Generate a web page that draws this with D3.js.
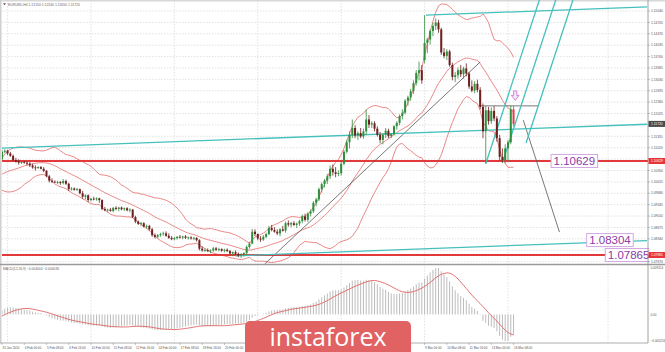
<!DOCTYPE html>
<html><head><meta charset="utf-8">
<script src="https://cdn.jsdelivr.net/npm/d3@7"></script>
<style>html,body{margin:0;padding:0;background:#fff;}svg{display:block;font-family:"Liberation Sans",Arial,sans-serif;}</style>
</head><body><svg id="c" width="665" height="352"></svg>
<script>
// ---------- DATA ----------
const title = "EURUSD,H4  1.12150 1.12240 1.11650 1.11720";
// closes before the first visible bar (only used to warm up the indicators)
const preCloses = [1.1092,1.1093,1.1090,1.1095,1.1092,1.1094, 1.1090,1.1085,1.1088,1.1082,1.1085,1.1082,
 1.1085,1.1090,1.1092,1.1088,1.1090,1.1092, 1.1090,1.1085,1.1080,1.1058,1.1050,1.1055,
 1.1058,1.1052,1.1045,1.1035,1.1028,1.1025, 1.1020,1.1025,1.1030,1.1022,1.1018,1.1020,
 1.1020,1.1015,1.1012,1.1005,1.1018,1.1020, 1.1018,1.1012,1.1005,1.1000,1.0995,1.1008,
 1.1010,1.1005,1.1012,1.1025,1.1030,1.1032, 1.1035,1.1040,1.1055,1.1068];
const opens = [1.1068,1.1090,
 1.1093,1.1085,1.1078,1.1066,1.1062,1.1058, 1.1060,1.1058,1.1055,1.1050,1.1044,1.1042,
 1.1045,1.1040,1.1034,1.1018,1.1005,1.1002, 1.1000,1.1001,1.0998,1.1004,1.0996,1.0980,
 1.0982,1.0978,1.0980,1.0968,1.0958,1.0962, 1.0948,1.0952,1.0950,1.0953,1.0948,1.0922,
 1.0918,1.0920,1.0916,1.0925,1.0922,1.0926, 1.0921,1.0924,1.0918,1.0920,1.0898,1.0885,
 1.0878,1.0880,1.0870,1.0872,1.0862,1.0845, 1.0840,1.0845,1.0848,1.0850,1.0843,1.0837,
 1.0833,1.0836,1.0840,1.0838,1.0841,1.0837, 1.0838,1.0835,1.0837,1.0830,1.0805,1.0800,
 1.0801,1.0798,1.0800,1.0806,1.0802,1.0804, 1.0799,1.0802,1.0798,1.0791,1.0795,1.0790,
 1.0785,1.0788,1.0792,1.0810,1.0820,1.0855, 1.0848,1.0835,1.0832,1.0840,1.0848,1.0866,
 1.0860,1.0855,1.0850,1.0862,1.0858,1.0880, 1.0876,1.0880,1.0875,1.0879,1.0886,1.0900,
 1.0890,1.0908,1.0915,1.0940,1.0950,1.0980, 1.0995,1.1005,1.1018,1.1040,1.1030,1.1025,
 1.1027,1.1055,1.1090,1.1118,1.1140,1.1160, 1.1138,1.1145,1.1135,1.1150,1.1185,1.1170,
 1.1174,1.1158,1.1140,1.1125,1.1140,1.1152, 1.1136,1.1142,1.1165,1.1175,1.1195,1.1205,
 1.1240,1.1250,1.1268,1.1292,1.1322,1.1330, 1.1360,1.1410,1.1420,1.1445,1.1460,1.1470,
 1.1450,1.1382,1.1372,1.1385,1.1345,1.1310, 1.1315,1.1330,1.1318,1.1335,1.1320,1.1282,
 1.1270,1.1290,1.1272,1.1222,1.1150,1.1212, 1.1180,1.1210,1.1188,1.1130,1.1075,1.1065,
 1.1100,1.1118,1.1215];
const highs = [1.1096,1.1097,
 1.1096,1.1090,1.1082,1.1072,1.1068,1.1062, 1.1063,1.1061,1.1060,1.1055,1.1050,1.1047,
 1.1048,1.1045,1.1036,1.1022,1.1012,1.1006, 1.1005,1.1004,1.1010,1.1008,1.0999,1.0986,
 1.0985,1.0984,1.0982,1.0975,1.0965,1.0965, 1.0955,1.0958,1.0956,1.0955,1.0950,1.0928,
 1.0923,1.0925,1.0928,1.0930,1.0928,1.0929, 1.0926,1.0927,1.0924,1.0922,1.0902,1.0888,
 1.0884,1.0883,1.0876,1.0875,1.0866,1.0850, 1.0848,1.0852,1.0855,1.0856,1.0850,1.0842,
 1.0840,1.0842,1.0845,1.0843,1.0845,1.0841, 1.0842,1.0840,1.0839,1.0833,1.0812,1.0806,
 1.0806,1.0803,1.0810,1.0810,1.0808,1.0806, 1.0805,1.0806,1.0801,1.0797,1.0800,1.0794,
 1.0792,1.0795,1.0815,1.0825,1.0863,1.0862, 1.0850,1.0842,1.0845,1.0852,1.0872,1.0875,
 1.0868,1.0862,1.0865,1.0872,1.0885,1.0888, 1.0884,1.0886,1.0882,1.0890,1.0905,1.0908,
 1.0912,1.0920,1.0945,1.0955,1.0985,1.1000, 1.1010,1.1025,1.1050,1.1053,1.1045,1.1035,
 1.1060,1.1095,1.1125,1.1150,1.1185,1.1168, 1.1150,1.1160,1.1158,1.1214,1.1198,1.1180,
 1.1180,1.1165,1.1148,1.1145,1.1160,1.1158, 1.1145,1.1168,1.1180,1.1200,1.1215,1.1245,
 1.1255,1.1275,1.1300,1.1330,1.1355,1.1345, 1.1492,1.1425,1.1450,1.1470,1.1482,1.1478,
 1.1455,1.1395,1.1392,1.1390,1.1352,1.1325, 1.1338,1.1345,1.1340,1.1350,1.1325,1.1300,
 1.1298,1.1302,1.1280,1.1232,1.1225,1.1222, 1.1220,1.1224,1.1195,1.1140,1.1100,1.1112,
 1.1125,1.1226,1.1224];
const lows = [1.1065,1.1086,
 1.1080,1.1075,1.1062,1.1058,1.1052,1.1054, 1.1055,1.1050,1.1045,1.1040,1.1035,1.1040,
 1.1038,1.1030,1.1015,1.1000,1.0998,1.0998, 1.0995,1.0993,1.0994,1.0992,1.0975,1.0976,
 1.0976,1.0975,1.0965,1.0952,1.0950,1.0942, 1.0944,1.0947,1.0946,1.0940,1.0918,1.0915,
 1.0912,1.0914,1.0912,1.0918,1.0915,1.0918, 1.0916,1.0915,1.0912,1.0895,1.0880,1.0875,
 1.0872,1.0868,1.0864,1.0858,1.0840,1.0835, 1.0836,1.0840,1.0843,1.0840,1.0834,1.0830,
 1.0830,1.0832,1.0835,1.0833,1.0834,1.0832, 1.0832,1.0830,1.0826,1.0800,1.0796,1.0795,
 1.0795,1.0792,1.0796,1.0798,1.0797,1.0796, 1.0794,1.0795,1.0788,1.0783,1.0786,1.0780,
 1.0778,1.0782,1.0788,1.0805,1.0818,1.0842, 1.0830,1.0825,1.0828,1.0836,1.0845,1.0856,
 1.0852,1.0845,1.0842,1.0855,1.0852,1.0870, 1.0868,1.0872,1.0866,1.0872,1.0880,1.0885,
 1.0884,1.0900,1.0910,1.0930,1.0945,1.0970, 1.0985,1.0995,1.1010,1.1020,1.1015,1.1018,
 1.1020,1.1050,1.1085,1.1100,1.1130,1.1130, 1.1125,1.1130,1.1128,1.1140,1.1160,1.1160,
 1.1150,1.1135,1.1115,1.1112,1.1130,1.1130, 1.1130,1.1138,1.1155,1.1168,1.1185,1.1200,
 1.1225,1.1240,1.1260,1.1285,1.1300,1.1290, 1.1350,1.1380,1.1405,1.1430,1.1448,1.1440,
 1.1375,1.1365,1.1360,1.1340,1.1300,1.1295, 1.1305,1.1310,1.1305,1.1312,1.1275,1.1265,
 1.1262,1.1265,1.1215,1.1130,1.1055,1.1170, 1.1172,1.1180,1.1120,1.1065,1.1058,1.1056,
 1.1062,1.1112,1.1165];
const closes = [1.1090,1.1093,
 1.1085,1.1078,1.1066,1.1062,1.1058,1.1060, 1.1058,1.1055,1.1050,1.1044,1.1042,1.1045,
 1.1040,1.1034,1.1018,1.1005,1.1002,1.1000, 1.1001,1.0998,1.1004,1.0996,1.0980,1.0982,
 1.0978,1.0980,1.0968,1.0958,1.0962,1.0948, 1.0952,1.0950,1.0953,1.0948,1.0922,1.0918,
 1.0920,1.0916,1.0925,1.0922,1.0926,1.0921, 1.0924,1.0918,1.0920,1.0898,1.0885,1.0878,
 1.0880,1.0870,1.0872,1.0862,1.0845,1.0840, 1.0845,1.0848,1.0850,1.0843,1.0837,1.0833,
 1.0836,1.0840,1.0838,1.0841,1.0837,1.0838, 1.0835,1.0837,1.0830,1.0805,1.0800,1.0801,
 1.0798,1.0800,1.0806,1.0802,1.0804,1.0799, 1.0802,1.0798,1.0791,1.0795,1.0790,1.0785,
 1.0788,1.0792,1.0810,1.0820,1.0855,1.0848, 1.0835,1.0832,1.0840,1.0848,1.0866,1.0860,
 1.0855,1.0850,1.0862,1.0858,1.0880,1.0876, 1.0880,1.0875,1.0879,1.0886,1.0900,1.0890,
 1.0908,1.0915,1.0940,1.0950,1.0980,1.0995, 1.1005,1.1018,1.1040,1.1030,1.1025,1.1027,
 1.1055,1.1090,1.1118,1.1140,1.1160,1.1138, 1.1145,1.1135,1.1150,1.1185,1.1170,1.1174,
 1.1158,1.1140,1.1125,1.1140,1.1152,1.1136, 1.1142,1.1165,1.1175,1.1195,1.1205,1.1240,
 1.1250,1.1268,1.1292,1.1322,1.1330,1.1300, 1.1410,1.1420,1.1445,1.1460,1.1470,1.1450,
 1.1382,1.1372,1.1385,1.1345,1.1310,1.1315, 1.1330,1.1318,1.1335,1.1320,1.1282,1.1270,
 1.1290,1.1272,1.1222,1.1150,1.1212,1.1180, 1.1210,1.1188,1.1130,1.1075,1.1065,1.1100,
 1.1118,1.1215,1.1172];

const priceTicks = [1.15040,1.14705,1.14370,1.14035,1.13700,1.13365,1.13030,1.12695,1.12360,1.12025,
 1.11690,1.11355,1.11020,1.10685,1.10350,1.10015,1.09680,1.09345,1.09010,1.08675,1.08340,1.08005,1.07670];
const xLabels = ["31 Jan 2020","4 Feb 00:00","5 Feb 08:00","6 Feb 16:00","10 Feb 00:00","11 Feb 08:00",
 "12 Feb 16:00","14 Feb 00:00","17 Feb 08:00","18 Feb 16:00","20 Feb 00:00","21 Feb 08:00","24 Feb 16:00",
 "26 Feb 00:00","27 Feb 08:00","28 Feb 16:00","3 Mar 00:00","4 Mar 08:00","5 Mar 16:00","9 Mar 00:00",
 "10 Mar 08:00","11 Mar 16:00","13 Mar 00:00","16 Mar 08:00"];
const xLabelBars = [0,8,16,24,32,40,48,56,64,72,80,88,96,104,112,120,128,136,144,152,160,168,176,184];
const gridBars = [2,32,62,92,122,152,182,218];

const levels = [1.10629, 1.07865];           // red horizontal levels
const levelLabels = [
  {text:"1.10629", bar:197.5, price:1.10629},
  {text:"1.08304", bar:210.3, price:1.08304},
  {text:"1.07865", bar:217.0, price:1.07865}];
// trend lines as [bar, price] anchor pairs
const cyanLines = [
  [[0,1.1101],[232,1.1171]],
  [[152.5,1.1492],[232,1.1516]],
  [[84,1.0784],[232,1.0829]],
  [[174,1.1055],[194,1.1554]],
  [[180,1.1058],[200,1.1557]],
  [[188.5,1.1116],[208,1.1602]]];
const grayLines = [
  [[94.5,1.0760],[172,1.1354]],
  [[172,1.1225],[193,1.1225]],
  [[187.5,1.1183],[200.5,1.0854]]];
const arrowAt = {bar:184.6, price:1.1269};

// ---------- LAYOUT ----------
const svg = d3.select("#c");
const PL = 2, PR = 648, MT = 0, MB = 264, ST = 265, SB = 343;
const BANNER = {x0:245, x1:411, y0:321};
const x = d3.scaleLinear().domain([0,232]).range([2,647]);
const y = d3.scaleLinear().domain([1.07865,1.10629]).range([255,161]);
const n = closes.length;
const fmt5 = d3.format(".5f");
const AXF = 3.3;
const last = closes[n-1];
const boxPrices = levels.concat([last]);

// indicators
const all = preCloses.concat(closes);
const off = preCloses.length;
const bbMid=[], bbUp=[], bbLo=[];
for (let i=0;i<n;i++){
  const j=off+i, w=all.slice(Math.max(0,j-19), j+1);
  const m=d3.mean(w), sd=Math.sqrt(d3.mean(w.map(v=>(v-m)*(v-m))));
  bbMid.push(m); bbUp.push(m+2*sd); bbLo.push(m-2*sd);
}
function ema(arr,p){const k=2/(p+1);const out=[arr[0]];for(let i=1;i<arr.length;i++)out.push(out[i-1]+k*(arr[i]-out[i-1]));return out;}
const e12=ema(all,12), e26=ema(all,26);
const macdAll=all.map((v,i)=>e12[i]-e26[i]);
const sigAll=macdAll.map((v,i)=>d3.mean(macdAll.slice(Math.max(0,i-8),i+1)));
const macd=macdAll.slice(off), sig=sigAll.slice(off);
const mMin=d3.min(macd.concat(sig)), mMax=d3.max(macd.concat(sig));
const ym = d3.scaleLinear().domain([mMin,mMax]).range([341,268]);

// clips
const defs=svg.append("defs");
defs.append("clipPath").attr("id","cm").append("rect").attr("x",PL).attr("y",MT).attr("width",PR-PL).attr("height",MB-MT);
defs.append("clipPath").attr("id","cs").append("rect").attr("x",PL).attr("y",ST).attr("width",PR-PL).attr("height",SB-ST);
defs.append("clipPath").attr("id","cl").append("rect").attr("x",0).attr("y",0).attr("width",PR+1).attr("height",MB);

// frame
svg.append("rect").attr("x",0).attr("y",0).attr("width",665).attr("height",352).attr("fill","#fff");
svg.append("rect").attr("x",0).attr("y",0).attr("width",665).attr("height",1.5).attr("fill","#d8d8d8");
svg.append("rect").attr("x",0).attr("y",0).attr("width",1.5).attr("height",SB).attr("fill","#d0d0d0");

// grid
const grid=svg.append("g").attr("stroke","#d6d6d6").attr("stroke-width",0.7).attr("stroke-dasharray","1.5,1.5");
grid.selectAll("line.h").data(priceTicks).join("line").attr("x1",PL).attr("x2",PR).attr("y1",d=>y(d)).attr("y2",d=>y(d));
grid.selectAll("line.v").data(gridBars).join("line").attr("x1",d=>x(d)).attr("x2",d=>x(d)).attr("y1",MT).attr("y2",SB);

const main=svg.append("g").attr("clip-path","url(#cm)");
// Bollinger bands
const ln=d3.line().x((d,i)=>x(i)).y(d=>y(d));
[bbUp,bbMid,bbLo].forEach(a=>main.append("path").attr("d",ln(a)).attr("fill","none").attr("stroke","#e77b7b").attr("stroke-width",0.9));

// red levels
main.selectAll("line.lv").data(levels).join("line").attr("x1",PL).attr("x2",PR)
  .attr("y1",d=>y(d)).attr("y2",d=>y(d)).attr("stroke","#e23a3a").attr("stroke-width",2);

// trend lines
const seg=(g,data,col,w)=>g.selectAll(null).data(data).join("line")
  .attr("x1",d=>x(d[0][0])).attr("y1",d=>y(d[0][1])).attr("x2",d=>x(d[1][0])).attr("y2",d=>y(d[1][1]))
  .attr("stroke",col).attr("stroke-width",w);
seg(main,grayLines,"#555",0.8);
seg(main,cyanLines,"#45c0bd",1.3);

// candles
const cd=d3.range(n).map(i=>({i,o:opens[i],h:highs[i],l:lows[i],c:closes[i]}));
const cg=main.append("g");
const col=d=>d.i===n-1?"#e0404a":(d.c>=d.o?"#2f8f3c":"#6e1f1f");
cg.selectAll("line").data(cd).join("line").attr("x1",d=>x(d.i)).attr("x2",d=>x(d.i))
  .attr("y1",d=>y(d.h)).attr("y2",d=>y(d.l)).attr("stroke",col).attr("stroke-width",0.8);
cg.selectAll("rect").data(cd).join("rect").attr("x",d=>x(d.i)-1).attr("width",2)
  .attr("y",d=>y(Math.max(d.o,d.c))).attr("height",d=>Math.max(0.8,Math.abs(y(d.o)-y(d.c)))).attr("fill",col);

// arrow
const ax=x(arrowAt.bar), ay=y(arrowAt.price);
main.append("path").attr("d",`M${ax-1.6},${ay} h3.2 v4.5 h2.2 l-3.8,5 l-3.8,-5 h2.2 z`)
  .attr("fill","#f6e6fa").attr("stroke","#c77ad6").attr("stroke-width",0.9);

// level labels (cut at the price axis, as in the picture)
const lg=svg.append("g").attr("clip-path","url(#cl)");
levelLabels.forEach(L=>{
  const g=lg.append("g");
  const t=g.append("text").attr("x",x(L.bar)+2.5).attr("y",y(L.price)+4).attr("font-size",11.5)
    .attr("fill","#8a3aa6").text(L.text);
  const w=t.node().getComputedTextLength();
  g.insert("rect","text").attr("x",x(L.bar)).attr("y",y(L.price)-6.5).attr("width",w+5).attr("height",13)
    .attr("fill","#fff").attr("stroke","#d2a9e2").attr("stroke-width",1);
});

// separators and price axis
svg.append("line").attr("x1",0).attr("x2",665).attr("y1",MB+0.5).attr("y2",MB+0.5).attr("stroke","#9a9a9a").attr("stroke-width",1.4);
svg.append("line").attr("x1",0).attr("x2",PR).attr("y1",SB).attr("y2",SB).attr("stroke","#9a9a9a").attr("stroke-width",0.8);
svg.append("line").attr("x1",PR).attr("x2",PR).attr("y1",0).attr("y2",SB).attr("stroke","#8a8a8a").attr("stroke-width",0.8);
// tick labels hidden behind the coloured price boxes are not drawn
const shownTicks=priceTicks.filter(t=>boxPrices.every(b=>Math.abs(y(t)-y(b))>5.5));
svg.append("g").attr("font-size",AXF).attr("fill","#555").selectAll("text").data(shownTicks).join("text")
  .attr("x",651).attr("y",d=>y(d)+1.2).text(d=>fmt5(d));
svg.append("g").selectAll("line").data(priceTicks).join("line").attr("x1",PR).attr("x2",PR+2)
  .attr("y1",d=>y(d)).attr("y2",d=>y(d)).attr("stroke","#888").attr("stroke-width",0.5);

// axis boxes: red levels and current price
levels.forEach(v=>{
  svg.append("rect").attr("x",PR+0.5).attr("y",y(v)-3).attr("width",16.5).attr("height",6).attr("fill","#e8353a");
  svg.append("text").attr("x",651).attr("y",y(v)+1.2).attr("font-size",AXF).attr("fill","#fff").text(fmt5(v));
});
svg.append("rect").attr("x",PR+0.5).attr("y",y(last)-3).attr("width",16.5).attr("height",6).attr("fill","#4a4a4a");
svg.append("text").attr("x",651).attr("y",y(last)+1.2).attr("font-size",AXF).attr("fill","#fff").text(fmt5(last));

// title
svg.append("path").attr("d","M3,3.3 h3 l-1.5,2 z").attr("fill","#555");
svg.append("text").attr("x",8).attr("y",5.8).attr("font-size",3.4).attr("fill","#666").text(title);

// MACD panel
const sub=svg.append("g").attr("clip-path","url(#cs)");
sub.selectAll("line").data(macd).join("line").attr("x1",(d,i)=>x(i)).attr("x2",(d,i)=>x(i))
  .attr("y1",ym(0)).attr("y2",d=>ym(d)).attr("stroke","#b4b4b4").attr("stroke-width",0.9);
sub.append("path").attr("d",d3.line().x((d,i)=>x(i)).y(d=>ym(d))(sig)).attr("fill","none").attr("stroke","#e06464").attr("stroke-width",0.9);
const f6=d3.format(".6f");
svg.append("text").attr("x",3).attr("y",269.5).attr("font-size",3.3).attr("fill","#666")
  .text(`MACD(12,26,9) ${f6(macd[n-1])} ${f6(sig[n-1])}`);
const mt=[{v:mMax,t:f6(mMax)},{v:0,t:"0.00"},{v:mMin,t:f6(mMin)}];
svg.append("g").attr("font-size",3.1).attr("fill","#555").selectAll("text").data(mt).join("text")
  .attr("x",650.5).attr("y",d=>ym(d.v)+1.1).text(d=>d.t);

// time axis (labels that sit under the watermark banner are hidden, as in the picture)
const tl=xLabels.map((t,i)=>({t,b:xLabelBars[i]}));
const visible=tl.filter(d=>x(d.b)+20<BANNER.x0 || x(d.b)>BANNER.x1);
const tx=svg.append("g");
tx.selectAll("line").data(tl).join("line").attr("x1",d=>x(d.b)).attr("x2",d=>x(d.b)).attr("y1",SB).attr("y2",SB+2)
  .attr("stroke","#888").attr("stroke-width",0.5);
tx.selectAll("text").data(visible).join("text").attr("x",d=>x(d.b)+0.5).attr("y",349)
  .attr("font-size",3.1).attr("fill","#555").text(d=>d.t);

// watermark banner
svg.append("rect").attr("x",BANNER.x0).attr("y",BANNER.y0).attr("width",BANNER.x1-BANNER.x0).attr("height",40).attr("rx",5).attr("fill","#e06262");
svg.append("text").attr("x",328).attr("y",346).attr("text-anchor","middle").attr("font-family","'Open Sans',sans-serif")
  .attr("font-size",25).attr("fill","#fff").text("instaforex");
</script></body></html>
